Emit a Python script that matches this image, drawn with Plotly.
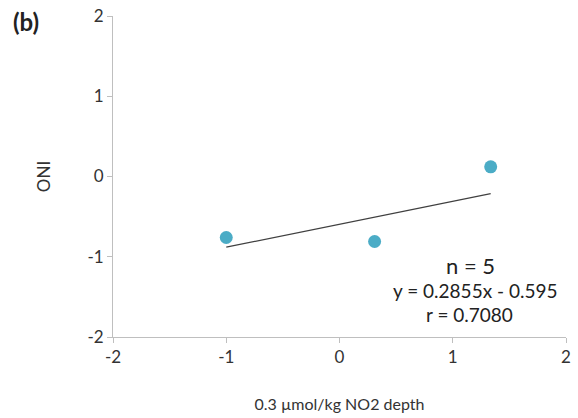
import plotly.graph_objects as go

x_vals = [-1.0, 0.31, 1.335]
y_vals = [-0.76, -0.81, 0.12]
slope = 0.2855
intercept = -0.595
fit_x = [min(x_vals), max(x_vals)]
fit_y = [slope * v + intercept for v in fit_x]
tick_vals = [-2, -1, 0, 1, 2]
tick_text = ["-2", "-1", "0", "1", "2"]

FONT = "Lato, 'Open Sans', sans-serif"

W, H = 578, 418
L, T = 113, 16
R, B = 12, 81
PW = W - L - R
PH = H - T - B

fig = go.Figure()
fig.add_trace(go.Scatter(x=fit_x, y=fit_y, mode="lines",
                         line=dict(color="#404040", width=1.3), showlegend=False))
fig.add_trace(go.Scatter(x=x_vals, y=y_vals, mode="markers",
                         marker=dict(color="#4bacc6", size=13), showlegend=False))

axis_common = dict(showgrid=False, zeroline=False, showline=True, linecolor="#bfbfbf",
                   linewidth=1, ticks="outside", ticklen=5, tickcolor="#bfbfbf",
                   tickvals=tick_vals, ticktext=tick_text, ticklabeloverflow="allow",
                   automargin=False,
                   tickfont=dict(family=FONT, size=17, color="#333333"))
fig.update_xaxes(range=[-2, 2], title=dict(text="0.3 µmol/kg NO2 depth",
                 font=dict(family=FONT, size=16, color="#333333"), standoff=32), **axis_common)
fig.update_yaxes(range=[-2, 2], title=dict(text="ONI",
                 font=dict(family=FONT, size=17, color="#333333"), standoff=32), **axis_common)

def px(xp):
    return (xp - L) / PW

def py(yp):
    return (H - B - yp) / PH

def note(text, xp, yp, size, xanchor="center"):
    fig.add_annotation(text=text, xref="paper", yref="paper", x=px(xp), y=py(yp),
                       xanchor=xanchor, yanchor="middle", showarrow=False,
                       font=dict(family=FONT, size=size, color="#222222"))

note("n = 5", 470, 265, 22)
note("y = 0.2855x - 0.595", 475, 290, 19)
note("r = 0.7080", 469, 314, 19)
note("<b>(b)</b>", 11, 21, 24, xanchor="left")

fig.update_layout(width=W, height=H, margin=dict(l=L, r=R, t=T, b=B),
                  paper_bgcolor="white", plot_bgcolor="white")
fig.write_html("out.html", config={"displayModeBar": False},
               post_script="document.body.style.margin='0';")
